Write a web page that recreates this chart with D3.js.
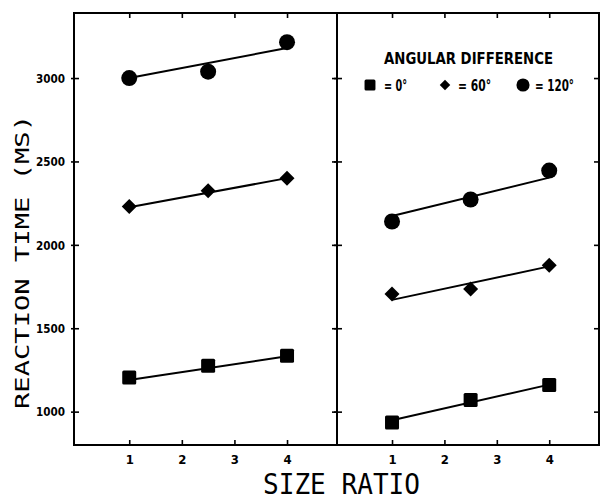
<!DOCTYPE html>
<html>
<head>
<meta charset="utf-8">
<script src="https://cdn.jsdelivr.net/npm/d3@7"></script>
<style>
  html, body { margin: 0; padding: 0; background: #fff; }
  svg { display: block; }
  .tick-label { font-family: "DejaVu Sans Condensed", "DejaVu Sans", sans-serif; font-stretch: condensed; font-weight: bold; font-size: 13px; fill: #000; }
  .title { font-family: "DejaVu Sans Mono", monospace; fill: #000; }
  .legend { font-family: "DejaVu Sans Condensed", "DejaVu Sans", sans-serif; font-stretch: condensed; font-weight: bold; fill: #000; }
</style>
</head>
<body>
<svg id="chart" width="600" height="500"></svg>
<script>
// ---- Data ----
const sizeRatios = [1, 2.5, 4];
const xTicks = [1, 2, 3, 4];
const yTicks = [1000, 1500, 2000, 2500, 3000];
const panels = ["left", "right"];

const leftSquare  = [1205, 1275, 1335];
const leftDiamond = [2230, 2325, 2400];
const leftCircle  = [3000, 3038, 3215];
const rightSquare  = [935, 1070, 1160];
const rightDiamond = [1705, 1735, 1878];
const rightCircle  = [2140, 2272, 2445];

// fitted line end values (at size ratio 1 and 4)
const fitRatios = [1, 4];
const leftSquareFit  = [1190, 1332];
const leftDiamondFit = [2225, 2400];
const leftCircleFit  = [3000, 3180];
const rightSquareFit  = [948, 1162];
const rightDiamondFit = [1670, 1871];
const rightCircleFit  = [2173, 2403];

const legendTitle = "ANGULAR DIFFERENCE";
const legendLabels = ["= 0°", "= 60°", "= 120°"];
const shapes = ["square", "diamond", "circle"];

// ---- Layout ----
const svg = d3.select("#chart");
const plotTop = 13, plotBottom = 445;
const panelX = { left: [74, 337], right: [337, 599] };

const y = d3.scaleLinear().domain([800, 3390]).range([plotBottom, plotTop]);
const xScales = {};
panels.forEach(p => {
  xScales[p] = d3.scaleLinear().domain([-0.05, 4.95]).range(panelX[p]);
});

const seriesData = {
  left:  { square: leftSquare, diamond: leftDiamond, circle: leftCircle },
  right: { square: rightSquare, diamond: rightDiamond, circle: rightCircle }
};
const fitData = {
  left:  { square: leftSquareFit, diamond: leftDiamondFit, circle: leftCircleFit },
  right: { square: rightSquareFit, diamond: rightDiamondFit, circle: rightCircleFit }
};

function drawMarker(g, shape, cx, cy, scale) {
  scale = scale || 1;
  if (shape === "square") {
    const s = 14 * scale;
    g.append("rect").attr("x", cx - s / 2).attr("y", cy - s / 2)
      .attr("width", s).attr("height", s).attr("rx", 1.5).attr("fill", "#000");
  } else if (shape === "diamond") {
    const r = 7.5 * scale;
    g.append("path").attr("d", `M${cx},${cy - r}L${cx + r},${cy}L${cx},${cy + r}L${cx - r},${cy}Z`)
      .attr("fill", "#000");
  } else {
    g.append("circle").attr("cx", cx).attr("cy", cy).attr("r", 8 * scale).attr("fill", "#000");
  }
}

const frame = svg.append("g");

panels.forEach(p => {
  const x = xScales[p];
  const [x0, x1] = panelX[p];
  const g = svg.append("g");

  // bottom axis with inward ticks
  const bottomAxis = d3.axisBottom(x).tickValues(xTicks).tickSize(-5).tickFormat(d3.format("d")).tickPadding(10);
  const ba = g.append("g").attr("transform", `translate(0,${plotBottom})`).call(bottomAxis);
  ba.select(".domain").remove();
  ba.selectAll("line").attr("stroke", "#000").attr("stroke-width", 1.6);
  ba.selectAll("text").attr("class", "tick-label").attr("font-size", null).attr("font-family", null);

  // top ticks inward
  const topAxis = d3.axisTop(x).tickValues(xTicks).tickSize(-5).tickFormat("");
  const ta = g.append("g").attr("transform", `translate(0,${plotTop})`).call(topAxis);
  ta.select(".domain").remove();
  ta.selectAll("line").attr("stroke", "#000").attr("stroke-width", 1.6);

  // y ticks on left edge of panel
  const leftAxis = d3.axisLeft(y).tickValues(yTicks).tickSize(-5)
    .tickFormat(p === "left" ? d3.format("d") : "").tickPadding(8);
  const la = g.append("g").attr("transform", `translate(${x0},0)`).call(leftAxis);
  la.select(".domain").remove();
  la.selectAll("line").attr("stroke", "#000").attr("stroke-width", 1.6);
  la.selectAll("text").filter(function () { return this.textContent !== ""; })
    .attr("class", "tick-label").attr("font-size", null).attr("font-family", null)
    .attr("dx", -1).attr("textLength", 29).attr("lengthAdjust", "spacingAndGlyphs");
  // small outward part of the tick
  const la2 = g.append("g").attr("transform", `translate(${x0},0)`)
    .call(d3.axisLeft(y).tickValues(yTicks).tickSize(3).tickFormat(""));
  la2.select(".domain").remove();
  la2.selectAll("line").attr("stroke", "#000").attr("stroke-width", 1.6);

  // y ticks on right edge of panel (inward)
  const ra = g.append("g").attr("transform", `translate(${x1},0)`)
    .call(d3.axisRight(y).tickValues(yTicks).tickSize(-5).tickFormat(""));
  ra.select(".domain").remove();
  ra.selectAll("line").attr("stroke", "#000").attr("stroke-width", 1.6);

  // panel frame
  frame.append("rect").attr("x", x0).attr("y", plotTop).attr("width", x1 - x0).attr("height", plotBottom - plotTop)
    .attr("fill", "none").attr("stroke", "#000").attr("stroke-width", 2);

  // fitted lines
  shapes.forEach(s => {
    const fit = fitData[p][s];
    const line = d3.line().x((d, i) => x(fitRatios[i])).y(d => y(d));
    g.append("path").datum(fit).attr("d", line).attr("fill", "none")
      .attr("stroke", "#000").attr("stroke-width", 2);
  });

  // markers
  shapes.forEach(s => {
    seriesData[p][s].forEach((v, i) => {
      drawMarker(g, s, x(sizeRatios[i]), y(v));
    });
  });
});

// ---- Legend ----
const lg = svg.append("g");
lg.append("text").attr("class", "legend").attr("x", 468.5).attr("y", 64)
  .attr("text-anchor", "middle").attr("font-size", 15)
  .attr("textLength", 169).attr("lengthAdjust", "spacingAndGlyphs").text(legendTitle);

const legendMarkerX = [370, 445, 523];
const legendMarkerScale = [0.78, 0.7, 0.82];
const legendTextX = [384, 458, 535];
const legendTextLen = [23, 33, 39];
shapes.forEach((s, i) => {
  drawMarker(lg, s, legendMarkerX[i], 85, legendMarkerScale[i]);
  lg.append("text").attr("class", "legend").attr("x", legendTextX[i]).attr("y", 90.5)
    .attr("font-size", 15).attr("textLength", legendTextLen[i])
    .attr("lengthAdjust", "spacingAndGlyphs").text(legendLabels[i]);
});

// ---- Axis titles ----
svg.append("text").attr("class", "title")
  .attr("transform", "translate(29,262) rotate(-90)")
  .attr("text-anchor", "middle").attr("font-size", 20)
  .attr("textLength", 294).attr("lengthAdjust", "spacingAndGlyphs")
  .text("REACTION TIME (MS)");

svg.append("text").attr("class", "title")
  .attr("x", 341.5).attr("y", 494)
  .attr("text-anchor", "middle").attr("font-size", 28)
  .attr("textLength", 157).attr("lengthAdjust", "spacingAndGlyphs")
  .text("SIZE RATIO");
</script>
</body>
</html>
